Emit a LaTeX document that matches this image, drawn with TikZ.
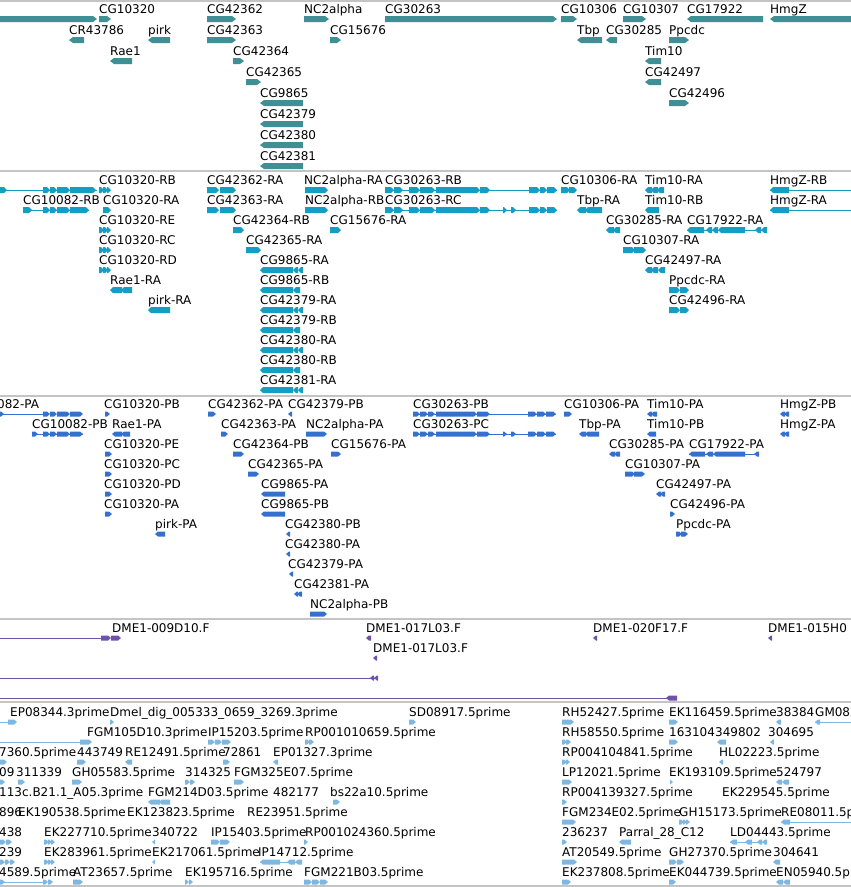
\documentclass[tikz,border=0pt]{standalone}
\usepackage{fontspec}
\setmainfont{DejaVu Sans}

\definecolor{genecol}{RGB}{64,143,148}
\definecolor{mrnacol}{RGB}{20,158,196}
\definecolor{protcol}{RGB}{51,112,208}
\definecolor{cdnacol}{RGB}{112,82,168}
\definecolor{estcol}{RGB}{126,184,224}
\definecolor{sepcol}{RGB}{196,196,196}

\tikzset{
  lbl/.style={anchor=base west, inner sep=0pt, text=black, font=\fontsize{12}{14}\selectfont},
  sepline/.style={draw=sepcol, line width=1.5pt},
}

% glyph half height and arrow tip length
\newcommand\gbh{3}
\newcommand\gtip{4}
% forward / reverse feature, plain block, intron line: {x1}{x2}{y}
\newcommand\gfw[3]{\fill (#1,#3-\gbh) -- (#2-\gtip,#3-\gbh) -- (#2,#3) -- (#2-\gtip,#3+\gbh) -- (#1,#3+\gbh) -- cycle;}
\newcommand\grv[3]{\fill (#2,#3-\gbh) -- (#1+\gtip,#3-\gbh) -- (#1,#3) -- (#1+\gtip,#3+\gbh) -- (#2,#3+\gbh) -- cycle;}
\newcommand\gline[3]{\draw[line width=1pt] (#1,#3) -- (#2,#3);}

\begin{document}
\begin{tikzpicture}[x=1pt,y=-1pt]

\fill[white] (0,0) rectangle (851,887);
\useasboundingbox (0,0) rectangle (851,887);
\clip (0,0) rectangle (851,887);

% track borders
\foreach \y in {1,171,396,619,702,886}
  \draw[sepline] (0,\y) -- (851,\y);

%%% genes
\begin{scope}[color=genecol]
\gfw{0}{97}{19}
\gfw{99}{111}{19}   \node[lbl] (g-CG10320) at (99,13) {CG10320};
\gfw{207}{236}{19}  \node[lbl] (g-CG42362) at (207,13) {CG42362};
\gfw{304}{329}{19}  \node[lbl] (g-NC2alpha) at (304,13) {NC2alpha};
\gfw{385}{557}{19}  \node[lbl] (g-CG30263) at (385,13) {CG30263};
\gfw{561}{577}{19}  \node[lbl] (g-CG10306) at (561,13) {CG10306};
\gfw{623}{646}{19}  \node[lbl] (g-CG10307) at (623,13) {CG10307};
\grv{687}{763}{19}  \node[lbl] (g-CG17922) at (687,13) {CG17922};
\grv{770}{851}{19}  \node[lbl] (g-HmgZ) at (770,13) {HmgZ};

\grv{69}{84}{40}    \node[lbl] (g-CR43786) at (69,34) {CR43786};
\grv{148}{170}{40}  \node[lbl] (g-pirk) at (148,34) {pirk};
\gfw{207}{236}{40}  \node[lbl] (g-CG42363) at (207,34) {CG42363};
\gfw{330}{341}{40}  \node[lbl] (g-CG15676) at (330,34) {CG15676};
\grv{577}{602}{40}  \node[lbl] (g-Tbp) at (577,34) {Tbp};
\grv{606}{617}{40}  \node[lbl] (g-CG30285) at (606,34) {CG30285};
\gfw{669}{689}{40}  \node[lbl] (g-Ppcdc) at (669,34) {Ppcdc};

\grv{110}{132}{61}  \node[lbl] (g-Rae1) at (110,55) {Rae1};
\gfw{233}{244}{61}  \node[lbl] (g-CG42364) at (233,55) {CG42364};
\grv{645}{661}{61}  \node[lbl] (g-Tim10) at (645,55) {Tim10};

\gfw{246}{261}{82}  \node[lbl] (g-CG42365) at (246,76) {CG42365};
\grv{645}{661}{82}  \node[lbl] (g-CG42497) at (645,76) {CG42497};

\grv{260}{303}{103} \node[lbl] (g-CG9865) at (260,97) {CG9865};
\gfw{669}{689}{103} \node[lbl] (g-CG42496) at (669,97) {CG42496};
\grv{260}{303}{124} \node[lbl] (g-CG42379) at (260,118) {CG42379};
\grv{260}{303}{145} \node[lbl] (g-CG42380) at (260,139) {CG42380};
\grv{260}{303}{166} \node[lbl] (g-CG42381) at (260,160) {CG42381};
\end{scope}

%%% transcripts
\begin{scope}[color=mrnacol]
\renewcommand\gtip{3}
% row 0
\gline{0}{97}{190}\gfw{0}{7}{190}\gfw{43}{50}{190}\gfw{50}{57}{190}\gfw{57}{70}{190}\gfw{70}{96}{190}
\gfw{99}{104}{190}\gfw{103}{108}{190}\gfw{107}{111}{190}
\node[lbl] (t-CG10320-RB) at (99,184) {CG10320-RB};
\gfw{207}{219}{190}\gfw{220}{236}{190}
\node[lbl] (t-CG42362-RA) at (207,184) {CG42362-RA};
\gfw{305}{328}{190}
\node[lbl] (t-NC2alpha-RA) at (304,184) {NC2alpha-RA};
\gline{385}{557}{190}\gfw{385}{394}{190}\gfw{394}{403}{190}\gfw{409}{420}{190}\gfw{420}{435}{190}\gfw{436}{480}{190}\gfw{480}{490}{190}\gfw{529}{540}{190}\gfw{540}{547}{190}\gfw{547}{557}{190}
\node[lbl] (t-CG30263-RB) at (385,184) {CG30263-RB};
\gfw{561}{570}{190}\gfw{569}{577}{190}
\node[lbl] (t-CG10306-RA) at (561,184) {CG10306-RA};
\grv{645}{652}{190}\grv{651}{658}{190}\grv{657}{664}{190}
\node[lbl] (t-Tim10-RA) at (645,184) {Tim10-RA};
\gline{770}{851}{190}\grv{770}{789}{190}
\node[lbl] (t-HmgZ-RB) at (770,184) {HmgZ-RB};
% row 1
\gline{23}{89}{210}\gfw{23}{32}{210}\gfw{43}{50}{210}\gfw{50}{57}{210}\gfw{57}{70}{210}\gfw{70}{89}{210}
\node[lbl] (t-CG10082-RB) at (23,204) {CG10082-RB};
\gfw{103}{111}{210}
\node[lbl] (t-CG10320-RA) at (103,204) {CG10320-RA};
\gfw{207}{219}{210}\gfw{220}{236}{210}
\node[lbl] (t-CG42363-RA) at (207,204) {CG42363-RA};
\gfw{305}{328}{210}
\node[lbl] (t-NC2alpha-RB) at (305,204) {NC2alpha-RB};
\gline{385}{557}{210}\gfw{385}{394}{210}\gfw{394}{403}{210}\gfw{409}{420}{210}\gfw{420}{435}{210}\gfw{436}{480}{210}\gfw{480}{490}{210}\gfw{503}{507}{210}\gfw{511}{516}{210}\gfw{529}{540}{210}\gfw{540}{547}{210}\gfw{547}{557}{210}
\node[lbl] (t-CG30263-RC) at (385,204) {CG30263-RC};
\grv{577}{586}{210}\grv{585}{602}{210}
\node[lbl] (t-Tbp-RA) at (577,204) {Tbp-RA};
\grv{645}{659}{210}
\node[lbl] (t-Tim10-RB) at (645,204) {Tim10-RB};
\gline{770}{851}{210}\grv{770}{789}{210}
\node[lbl] (t-HmgZ-RA) at (770,204) {HmgZ-RA};
% row 2
\gfw{99}{104}{230}\gfw{103}{108}{230}\gfw{107}{111}{230}
\node[lbl] (t-CG10320-RE) at (99,224) {CG10320-RE};
\gfw{233}{244}{230}
\node[lbl] (t-CG42364-RB) at (233,224) {CG42364-RB};
\gfw{330}{341}{230}
\node[lbl] (t-CG15676-RA) at (330,224) {CG15676-RA};
\grv{606}{614}{230}\grv{613}{620}{230}
\node[lbl] (t-CG30285-RA) at (606,224) {CG30285-RA};
\gline{687}{767}{230}\grv{687}{704}{230}\grv{706}{712}{230}\grv{712}{718}{230}\grv{718}{745}{230}\grv{755}{761}{230}\grv{761}{767}{230}
\node[lbl] (t-CG17922-RA) at (687,224) {CG17922-RA};
% row 3
\gfw{99}{104}{250}\gfw{103}{108}{250}\gfw{107}{111}{250}
\node[lbl] (t-CG10320-RC) at (99,244) {CG10320-RC};
\gfw{246}{261}{250}
\node[lbl] (t-CG42365-RA) at (246,244) {CG42365-RA};
\gfw{623}{635}{250}\gfw{634}{646}{250}
\node[lbl] (t-CG10307-RA) at (623,244) {CG10307-RA};
% row 4
\gfw{99}{104}{270}\gfw{103}{108}{270}\gfw{107}{111}{270}
\node[lbl] (t-CG10320-RD) at (99,264) {CG10320-RD};
\grv{260}{293}{270}\grv{293}{298}{270}\grv{298}{303}{270}
\node[lbl] (t-CG9865-RA) at (260,264) {CG9865-RA};
\grv{645}{652}{270}\grv{651}{658}{270}\grv{658}{665}{270}
\node[lbl] (t-CG42497-RA) at (645,264) {CG42497-RA};
% row 5
\grv{110}{122}{290}\grv{121}{132}{290}
\node[lbl] (t-Rae1-RA) at (110,284) {Rae1-RA};
\grv{260}{293}{290}\grv{293}{300}{290}
\node[lbl] (t-CG9865-RB) at (260,284) {CG9865-RB};
\gfw{669}{680}{290}\gfw{680}{689}{290}
\node[lbl] (t-Ppcdc-RA) at (669,284) {Ppcdc-RA};
% row 6
\grv{148}{170}{310}
\node[lbl] (t-pirk-RA) at (148,304) {pirk-RA};
\grv{260}{293}{310}\grv{293}{298}{310}\grv{298}{303}{310}
\node[lbl] (t-CG42379-RA) at (260,304) {CG42379-RA};
\gfw{669}{680}{310}\gfw{680}{689}{310}
\node[lbl] (t-CG42496-RA) at (669,304) {CG42496-RA};
% rows 7-10
\grv{260}{293}{330}\grv{293}{300}{330}
\node[lbl] (t-CG42379-RB) at (260,324) {CG42379-RB};
\grv{260}{293}{350}\grv{293}{298}{350}\grv{298}{303}{350}
\node[lbl] (t-CG42380-RA) at (260,344) {CG42380-RA};
\grv{260}{293}{370}\grv{293}{300}{370}
\node[lbl] (t-CG42380-RB) at (260,364) {CG42380-RB};
\grv{260}{293}{390}\grv{293}{298}{390}\grv{298}{303}{390}
\node[lbl] (t-CG42381-RA) at (260,384) {CG42381-RA};
\end{scope}

%%% proteins
\begin{scope}[color=protcol]
\renewcommand\gbh{2.5}
\renewcommand\gtip{3}
% row 0
\gline{0}{43}{414}\gfw{0}{4}{414}\gfw{43}{50}{414}\gfw{50}{57}{414}\gfw{57}{70}{414}\gfw{70}{83}{414}
\node[lbl] (p-CG10082-PA) at (-3,408) {082-PA};
\gfw{105}{110}{414}
\node[lbl] (p-CG10320-PB) at (104,408) {CG10320-PB};
\gfw{208}{216}{414}
\node[lbl] (p-CG42362-PA) at (208,408) {CG42362-PA};
\grv{288}{292}{414}
\node[lbl] (p-CG42379-PB) at (288,408) {CG42379-PB};
\gline{413}{556}{414}\gfw{413}{420}{414}\gfw{420}{428}{414}\gfw{428}{435}{414}\gfw{436}{477}{414}\gfw{477}{490}{414}\gfw{528}{537}{414}\gfw{537}{546}{414}\gfw{546}{556}{414}
\node[lbl] (p-CG30263-PB) at (413,408) {CG30263-PB};
\gfw{564}{572}{414}
\node[lbl] (p-CG10306-PA) at (564,408) {CG10306-PA};
\grv{647}{652}{414}\grv{651}{657}{414}
\node[lbl] (p-Tim10-PA) at (647,408) {Tim10-PA};
\grv{780}{785}{414}\grv{784}{789}{414}
\node[lbl] (p-HmgZ-PB) at (780,408) {HmgZ-PB};
% row 1
\gline{32}{83}{434}\gfw{32}{38}{434}\gfw{43}{50}{434}\gfw{50}{57}{434}\gfw{57}{70}{434}\gfw{70}{83}{434}
\node[lbl] (p-CG10082-PB) at (32,428) {CG10082-PB};
\grv{112}{122}{434}\grv{121}{130}{434}
\node[lbl] (p-Rae1-PA) at (112,428) {Rae1-PA};
\gfw{221}{228}{434}
\node[lbl] (p-CG42363-PA) at (221,428) {CG42363-PA};
\gfw{306}{327}{434}
\node[lbl] (p-NC2alpha-PA) at (306,428) {NC2alpha-PA};
\gline{413}{556}{434}\gfw{413}{420}{434}\gfw{420}{428}{434}\gfw{428}{435}{434}\gfw{436}{477}{434}\gfw{477}{490}{434}\gfw{503}{507}{434}\gfw{511}{516}{434}\gfw{528}{537}{434}\gfw{537}{546}{434}\gfw{546}{556}{434}
\node[lbl] (p-CG30263-PC) at (413,428) {CG30263-PC};
\grv{579}{586}{434}\grv{585}{599}{434}
\node[lbl] (p-Tbp-PA) at (579,428) {Tbp-PA};
\grv{647}{656}{434}
\node[lbl] (p-Tim10-PB) at (647,428) {Tim10-PB};
\grv{780}{785}{434}\grv{784}{789}{434}
\node[lbl] (p-HmgZ-PA) at (780,428) {HmgZ-PA};
% row 2
\gfw{105}{112}{454}
\node[lbl] (p-CG10320-PE) at (104,448) {CG10320-PE};
\gfw{233}{244}{454}
\node[lbl] (p-CG42364-PB) at (233,448) {CG42364-PB};
\gfw{331}{341}{454}
\node[lbl] (p-CG15676-PA) at (331,448) {CG15676-PA};
\grv{609}{615}{454}\grv{614}{620}{454}
\node[lbl] (p-CG30285-PA) at (609,448) {CG30285-PA};
\gline{689}{759}{454}\grv{689}{705}{454}\grv{706}{713}{454}\grv{713}{745}{454}\grv{754}{759}{454}
\node[lbl] (p-CG17922-PA) at (689,448) {CG17922-PA};
% row 3
\gfw{105}{112}{474}
\node[lbl] (p-CG10320-PC) at (104,468) {CG10320-PC};
\gfw{248}{259}{474}
\node[lbl] (p-CG42365-PA) at (248,468) {CG42365-PA};
\gfw{625}{635}{474}\gfw{634}{645}{474}
\node[lbl] (p-CG10307-PA) at (625,468) {CG10307-PA};
% row 4
\gfw{105}{112}{494}
\node[lbl] (p-CG10320-PD) at (104,488) {CG10320-PD};
\grv{261}{285}{494}
\node[lbl] (p-CG9865-PA) at (261,488) {CG9865-PA};
\grv{656}{661}{494}\grv{660}{665}{494}
\node[lbl] (p-CG42497-PA) at (656,488) {CG42497-PA};
% row 5
\gfw{105}{112}{514}
\node[lbl] (p-CG10320-PA) at (104,508) {CG10320-PA};
\grv{261}{285}{514}
\node[lbl] (p-CG9865-PB) at (261,508) {CG9865-PB};
\gfw{670}{675}{514}
\node[lbl] (p-CG42496-PA) at (670,508) {CG42496-PA};
% row 6
\grv{155}{165}{534}
\node[lbl] (p-pirk-PA) at (155,528) {pirk-PA};
\grv{286}{290}{534}
\node[lbl] (p-CG42380-PB) at (285,528) {CG42380-PB};
\gfw{676}{682}{534}\gfw{681}{688}{534}
\node[lbl] (p-Ppcdc-PA) at (676,528) {Ppcdc-PA};
% rows 7-10
\grv{286}{290}{554}
\node[lbl] (p-CG42380-PA) at (285,548) {CG42380-PA};
\grv{289}{293}{574}
\node[lbl] (p-CG42379-PA) at (288,568) {CG42379-PA};
\grv{294}{298}{594}\grv{297}{302}{594}
\node[lbl] (p-CG42381-PA) at (294,588) {CG42381-PA};
\gfw{310}{327}{614}
\node[lbl] (p-NC2alpha-PB) at (310,608) {NC2alpha-PB};
\end{scope}

%%% cDNA
\begin{scope}[color=cdnacol]
\renewcommand\gbh{2.5}
\renewcommand\gtip{3}
\gline{0}{101}{638}\gfw{101}{111}{638}\gfw{111}{121}{638}
\node[lbl] (c1) at (112,632) {DME1-009D10.F};
\grv{366}{371}{638}
\node[lbl] (c2) at (366,632) {DME1-017L03.F};
\grv{593}{597}{638}
\node[lbl] (c3) at (593,632) {DME1-020F17.F};
\grv{768}{772}{638}
\node[lbl] (c4) at (768,632) {DME1-015H0};
\grv{373}{377}{658}
\node[lbl] (c5) at (373,652) {DME1-017L03.F};
\gline{0}{377}{678}\grv{370}{374}{678}\grv{374}{378}{678}
\gline{0}{677}{698}\grv{666}{677}{698}
\end{scope}

%%% ESTs
\begin{scope}[color=estcol]
\renewcommand\gbh{2.5}
\renewcommand\gtip{3}
% row 0
\gline{0}{10}{722}\gfw{8}{17}{722}
\node[lbl] (e1) at (10,716) {EP08344.3prime};
\gfw{110}{114}{722}
\node[lbl] (e2) at (110,716) {Dmel\_dig\_005333\_0659\_3269.3prime};
\gfw{409}{416}{722}
\node[lbl] (e3) at (409,716) {SD08917.5prime};
\gfw{562}{574}{722}
\node[lbl] (e4) at (562,716) {RH52427.5prime};
\gfw{669}{678}{722}
\node[lbl] (e5) at (669,716) {EK116459.5prime};
\grv{776}{781}{722}
\node[lbl] (e6) at (776,716) {38384};
\gline{815}{851}{722}\grv{815}{820}{722}
\node[lbl] (e7) at (815,716) {GM082};
% row 1
\gline{0}{82}{742}\gfw{80}{92}{742}
\node[lbl] (e8) at (87,736) {FGM105D10.3prime};
\gfw{208}{215}{742}\gfw{215}{222}{742}\gfw{222}{231}{742}
\node[lbl] (e9) at (208,736) {IP15203.5prime};
\gfw{305}{310}{742}\gfw{309}{314}{742}
\node[lbl] (e10) at (305,736) {RP001010659.5prime};
\gfw{562}{567}{742}\gfw{566}{571}{742}
\node[lbl] (e11) at (562,736) {RH58550.5prime};
\gfw{669}{678}{742}
\node[lbl] (e12) at (669,736) {163104};
\grv{717}{726}{742}
\node[lbl] (e13) at (715,736) {349802};
\grv{770}{774}{742}
\node[lbl] (e14) at (768,736) {304695};
% row 2
\gfw{0}{7}{762}
\node[lbl] (e15) at (-1,756) {7360.5prime};
\gfw{77}{86}{762}
\node[lbl] (e16) at (77,756) {443749};
\grv{125}{132}{762}
\node[lbl] (e17) at (125,756) {RE12491.5prime};
\gfw{223}{230}{762}
\node[lbl] (e18) at (223,756) {72861};
\grv{273}{278}{762}
\node[lbl] (e19) at (273,756) {EP01327.3prime};
\gfw{562}{567}{762}\gfw{566}{570}{762}
\node[lbl] (e20) at (562,756) {RP004104841.5prime};
\grv{719}{723}{762}
\node[lbl] (e21) at (719,756) {HL02223.5prime};
% row 3
\gfw{0}{5}{782}
\node[lbl] (e22) at (-1,776) {09};
\gfw{18}{25}{782}
\node[lbl] (e23) at (16,776) {311339};
\gfw{72}{82}{782}
\node[lbl] (e24) at (72,776) {GH05583.5prime};
\gfw{185}{190}{782}\gfw{190}{195}{782}
\node[lbl] (e25) at (185,776) {314325};
\gfw{234}{244}{782}
\node[lbl] (e26) at (234,776) {FGM325E07.5prime};
\gfw{562}{572}{782}
\node[lbl] (e27) at (562,776) {LP12021.5prime};
\gfw{670}{673}{782}
\node[lbl] (e28) at (669,776) {EK193109.5prime};
\grv{776}{782}{782}\grv{782}{789}{782}
\node[lbl] (e29) at (776,776) {524797};
% row 4
\node[lbl] (e30) at (-1,796) {113c.B21.1\_A05.3prime};
\grv{148}{160}{802}\grv{159}{170}{802}
\node[lbl] (e31) at (148,796) {FGM214D03.5prime};
\node[lbl] (e32) at (273,796) {482177};
\gfw{333}{340}{802}
\node[lbl] (e33) at (330,796) {bs22a10.5prime};
\gfw{562}{567}{802}
\node[lbl] (e34) at (562,796) {RP004139327.5prime};
\node[lbl] (e35) at (722,796) {EK229545.5prime};
% row 5
\node[lbl] (e36) at (-1,816) {896};
\node[lbl] (e37) at (18,816) {EK190538.5prime};
\node[lbl] (e38) at (127,816) {EK123823.5prime};
\node[lbl] (e39) at (247,816) {RE23951.5prime};
\gfw{562}{576}{822}
\node[lbl] (e40) at (562,816) {FGM234E02.5prime};
\gfw{679}{684}{822}\gfw{683}{687}{822}\gfw{686}{690}{822}
\node[lbl] (e41) at (679,816) {GH15173.5prime};
\gline{781}{851}{822}\grv{781}{790}{822}
\node[lbl] (e42) at (781,816) {RE08011.5p};
% row 6
\gfw{0}{6}{842}\gfw{6}{12}{842}
\node[lbl] (e43) at (-1,836) {438};
\gfw{44}{49}{842}\gfw{48}{52}{842}\gfw{51}{55}{842}
\node[lbl] (e44) at (44,836) {EK227710.5prime};
\grv{152}{155}{842}
\node[lbl] (e45) at (152,836) {340722};
\gfw{211}{220}{842}\gfw{220}{230}{842}
\node[lbl] (e46) at (211,836) {IP15403.5prime};
\gfw{304}{308}{842}
\node[lbl] (e47) at (305,836) {RP001024360.5prime};
\gfw{562}{567}{842}
\node[lbl] (e48) at (562,836) {236237};
\grv{619}{631}{842}
\node[lbl] (e49) at (619,836) {Parral\_28\_C12};
\gline{730}{767}{842}\grv{730}{737}{842}\grv{745}{752}{842}\grv{757}{762}{842}\grv{762}{767}{842}
\node[lbl] (e50) at (730,836) {LD04443.5prime};
% row 7
\gfw{0}{5}{862}\gfw{5}{10}{862}\gfw{10}{15}{862}
\node[lbl] (e51) at (-1,856) {239};
\gfw{44}{49}{862}\gfw{48}{52}{862}\gfw{51}{55}{862}
\node[lbl] (e52) at (44,856) {EK283961.5prime};
\grv{152}{155}{862}
\node[lbl] (e53) at (152,856) {EK217061.5prime};
\gline{260}{302}{862}\grv{260}{280}{862}\grv{287}{295}{862}\grv{295}{302}{862}
\node[lbl] (e54) at (258,856) {IP14712.5prime};
\gfw{562}{577}{862}
\node[lbl] (e55) at (562,856) {AT20549.5prime};
\gfw{669}{677}{862}\gfw{677}{684}{862}
\node[lbl] (e56) at (669,856) {GH27370.5prime};
\grv{773}{780}{862}
\node[lbl] (e57) at (773,856) {304641};
% row 8
\gline{0}{45}{882}\gfw{0}{5}{882}\gfw{43}{48}{882}\gfw{48}{53}{882}
\node[lbl] (e58) at (-1,876) {4589.5prime};
\gfw{73}{83}{882}
\node[lbl] (e59) at (73,876) {AT23657.5prime};
\gfw{185}{189}{882}\gfw{189}{193}{882}
\node[lbl] (e60) at (185,876) {EK195716.5prime};
\gfw{304}{312}{882}\gfw{312}{320}{882}\gfw{320}{328}{882}
\node[lbl] (e61) at (304,876) {FGM221B03.5prime};
\gfw{562}{571}{882}
\node[lbl] (e62) at (562,876) {EK237808.5prime};
\gfw{669}{676}{882}
\node[lbl] (e63) at (669,876) {EK044739.5prime};
\grv{776}{783}{882}\grv{783}{790}{882}
\node[lbl] (e64) at (776,876) {EN05940.5p};
\end{scope}

\end{tikzpicture}
\end{document}
